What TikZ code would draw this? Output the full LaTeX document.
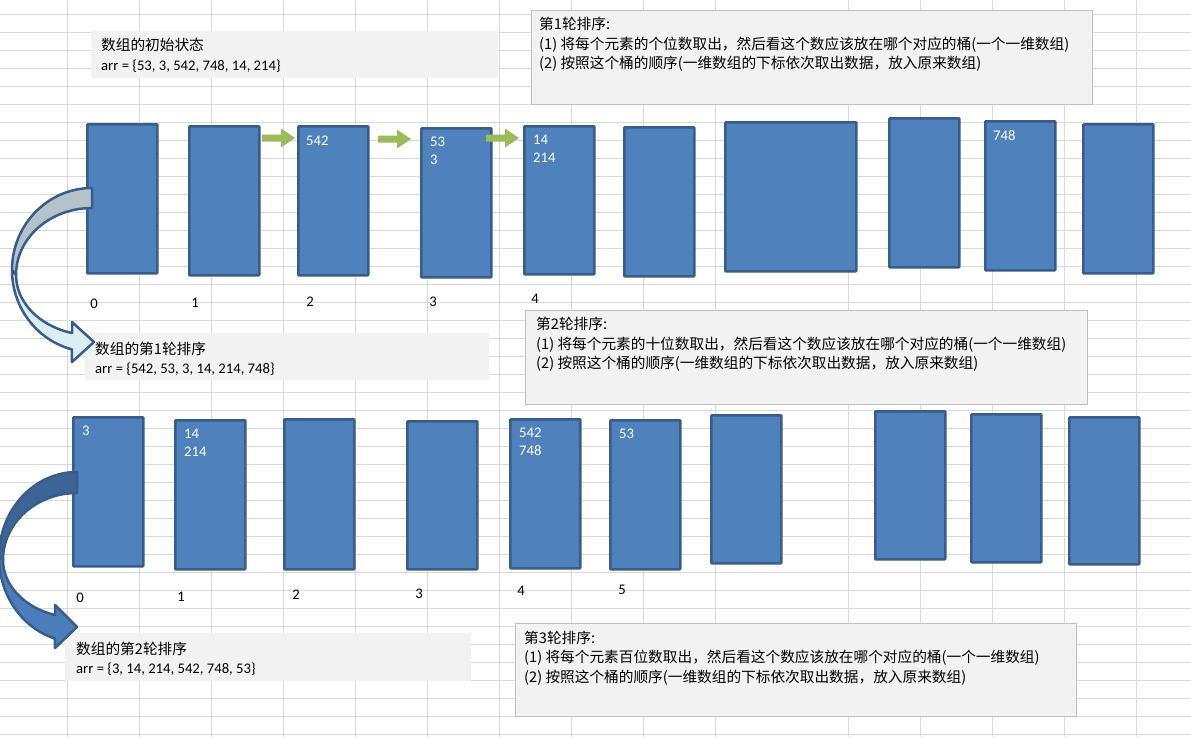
\documentclass[tikz,border=0pt]{standalone}
\usepackage{fontspec}
\setmainfont{Carlito}
\newfontfamily\cjk{Noto Sans CJK SC}
\usepackage{xcolor}
\usepackage{tikz}
\usetikzlibrary{positioning, calc}

\definecolor{bucketblue}{HTML}{4F81BD}
\definecolor{bucketedge}{HTML}{385D8A}
\definecolor{notegray}{HTML}{F2F2F2}
\definecolor{noteedge}{HTML}{BFBFBF}
\definecolor{cellgray}{HTML}{D9D9D9}
\definecolor{pushgreen}{HTML}{9BBB59}
\definecolor{bendpale}{HTML}{B4C2CA}
\definecolor{bendsky}{HTML}{DBEEF4}
\definecolor{benddeep}{HTML}{3C6494}
\definecolor{bendmid}{HTML}{4B7DBA}

\begin{document}
\begin{tikzpicture}[
          x=1pt, y=-1pt,
          font=\fontsize{14.67}{19.5}\selectfont,
          cell/.style={draw=cellgray, line width=1pt},
          bucket/.style={draw=bucketedge, fill=bucketblue, line width=2.6pt, rounded corners=0.8pt, inner sep=0pt, anchor=north west},
          val/.style={text=white, align=left, inner sep=0pt, anchor=north west, font=\fontsize{14.67}{18}\selectfont},
          idx/.style={inner sep=0pt},
          note/.style={fill=notegray, inner sep=0pt, anchor=north west},
          bignote/.style={note, draw=noteedge, line width=1.2pt},
          notetext/.style={align=left, inner sep=0pt, anchor=north west},
          cjktext/.style={notetext, font=\cjk\fontsize{14.67}{19.5}\selectfont},
          pusher/.style={fill=pushgreen},
          bendline/.style={draw=bucketedge, line width=2.5pt, line join=round}
        ]
          \useasboundingbox (0,0) rectangle (1191,737);
          \fill[white] (0,0) rectangle (1191,737);
          \clip (0,0) rectangle (1191,737);

          % spreadsheet cells
          \foreach \gy in {14,32,...,734}
            \draw[cell] (0,\gy) -- (1191,\gy);
          \foreach \gx in {67.5,139.5,211.5,283.5,355.5,427.5,499.5,571.5,643.5,715.5,848.5,920.5,992.5,1064.5,1136.5}
            \draw[cell] (\gx,0) -- (\gx,737);

          % notes
          \node[note, minimum width=407, minimum height=47] (init) at (91,31) {};
          \node[notetext] (initt) at (101,38.3) {{\cjk 数组的初始状态}\\arr = \{53, 3, 542, 748, 14, 214\}};
          \node[note, minimum width=404, minimum height=47] (pass1) at (85,333) {};
          \node[notetext] (pass1t) at (95,341.6) {{\cjk 数组的第1轮排序}\\arr = \{542, 53, 3, 14, 214, 748\}};
          \node[note, minimum width=406, minimum height=48] (pass2) at (65,633) {};
          \node[notetext] (pass2t) at (76,641.6) {{\cjk 数组的第2轮排序}\\arr = \{3, 14, 214, 542, 748, 53\}};

          \node[bignote, minimum width=561, minimum height=94] (step1) at (531,10) {};
          \node[cjktext] (step1t) at (539,17.3) {第1轮排序:\\(1) 将每个元素的个位数取出，然后看这个数应该放在哪个对应的桶(一个一维数组)\\(2) 按照这个桶的顺序(一维数组的下标依次取出数据，放入原来数组)};
          \node[bignote, minimum width=562, minimum height=94] (step2) at (525,310) {};
          \node[cjktext] (step2t) at (536,317.3) {第2轮排序:\\(1) 将每个元素的十位数取出，然后看这个数应该放在哪个对应的桶(一个一维数组)\\(2) 按照这个桶的顺序(一维数组的下标依次取出数据，放入原来数组)};
          \node[bignote, minimum width=561, minimum height=93] (step3) at (515,623) {};
          \node[cjktext] (step3t) at (524,630.5) {第3轮排序:\\(1) 将每个元素百位数取出，然后看这个数应该放在哪个对应的桶(一个一维数组)\\(2) 按照这个桶的顺序(一维数组的下标依次取出数据，放入原来数组)};

          % buckets
          \foreach \n/\x/\y/\w/\h in {0/86/123/70/149, 1/188/125/70/149, 2/297/125/70/149, 3/420/127/70/149, 4/523/125/70/148,
                                      5/623/126/70/149, 6/724/121/131/149, 7/888/117/70/149, 8/984/120/70/149, 9/1082/123/70/149}
            \node[bucket, minimum width=\w, minimum height=\h] (b\n) at (\x,\y) {};
          \foreach \n/\x/\y/\w/\h in {0/72/416/70/149, 1/174/419/70/149, 2/283/418/70/150, 3/406/420/70/148, 4/509/418/70/149,
                                      5/609/419/70/149, 6/710/414/70/148, 7/874/410/70/148, 8/970/413/70/148, 9/1068/416/70/147}
            \node[bucket, minimum width=\w, minimum height=\h] (c\n) at (\x,\y) {};

          \node[val] at ([shift={(9,11)}]b2.north west) {542};
          \node[val] at ([shift={(10,10)}]b3.north west) {53\\3};
          \node[val] at ([shift={(10,10)}]b4.north west) {14\\214};
          \node[val] at ([shift={(9,10)}]b8.north west) {748};
          \node[val] at ([shift={(10,10)}]c0.north west) {3};
          \node[val] at ([shift={(10,10)}]c1.north west) {14\\214};
          \node[val] at ([shift={(10,9.5)}]c4.north west) {542\\748};
          \node[val] at ([shift={(10,9.5)}]c5.north west) {53};

          % bucket numbers
          \foreach \n/\x/\y in {0/94/304, 1/195/303, 2/310/302, 3/433/301.5, 4/535/299}
            \node[idx] (i\n) at (\x,\y) {\n};
          \foreach \n/\x/\y in {0/80/597.5, 1/181/596.5, 2/296/595, 3/419/594, 4/521/591, 5/622/590}
            \node[idx] (j\n) at (\x,\y) {\n};

          % green arrows
          \foreach \x/\y in {262/138, 378/139, 486/138}
            \fill[pusher] (\x,\y-3.5) -- (\x+19,\y-3.5) -- (\x+19,\y-9.5) -- (\x+33,\y)
              -- (\x+19,\y+9.5) -- (\x+19,\y+3.5) -- (\x,\y+3.5) -- cycle;

          % bent arrows
          \filldraw[bendline, fill=bendpale] (92,188) arc[start angle=270, end angle=180, x radius=80, y radius=82]
            -- (16,275) arc[start angle=180, end angle=270, x radius=76, y radius=67] -- cycle;
          \filldraw[bendline, fill=bendsky] (12,270) arc[start angle=180, end angle=104.5, x radius=80, y radius=82]
            -- (72,362) -- (94,342) -- (72,322) -- (72,333)
            arc[start angle=105.3, end angle=180, x radius=76, y radius=60] -- cycle;

          \filldraw[bendline, fill=benddeep] (77,472) arc[start angle=270, end angle=180, x radius=78, y radius=85]
            -- (3,560) arc[start angle=180, end angle=270, x radius=74, y radius=67] -- cycle;
          \filldraw[bendline, fill=bendmid] (-1,557) arc[start angle=180, end angle=106.4, x radius=78, y radius=85]
            -- (55,648) -- (77,627) -- (55,605) -- (55,615)
            arc[start angle=107.3, end angle=180, x radius=74, y radius=57.6] -- cycle;
        \end{tikzpicture}
\end{document}
